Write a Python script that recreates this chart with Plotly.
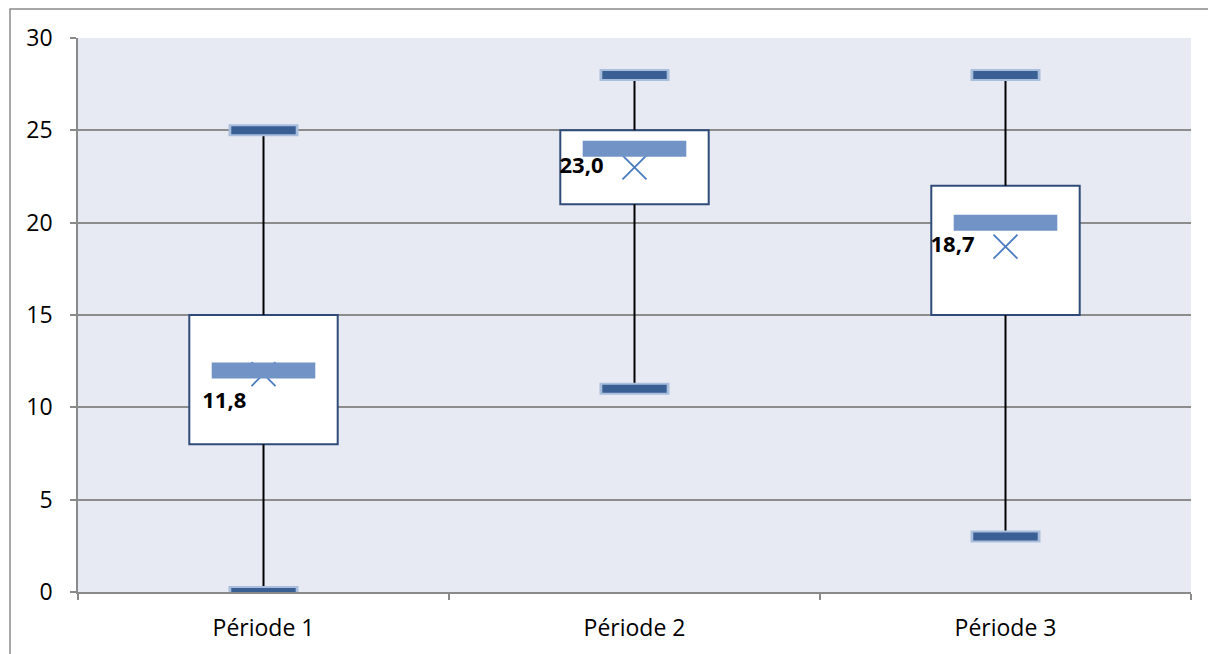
import plotly.graph_objects as go

categories = ["Période 1", "Période 2", "Période 3"]
mins = [0, 11, 3]
q1 = [8, 21, 15]
medians = [12, 24, 20]
q3 = [15, 25, 22]
maxs = [25, 28, 28]
means = [11.8, 23.0, 18.7]
mean_labels = ["11,8", "23,0", "18,7"]
label_pos = ["bottom left", "middle left", "middle left"]
label_gap = [26, 48, 48]

fig = go.Figure()

# whiskers
wx, wy = [], []
for c, lo, a, b, hi in zip(categories, mins, q1, q3, maxs):
    wx += [c, c, None, c, c, None]
    wy += [lo, a, None, b, hi, None]
fig.add_trace(go.Scatter(x=wx, y=wy, mode="lines", line=dict(color="black", width=2),
                         hoverinfo="skip", showlegend=False))

# boxes
fig.add_trace(go.Bar(x=categories, y=[b - a for a, b in zip(q1, q3)], base=q1, width=0.4,
                     marker=dict(color="white", line=dict(color="#2F4B78", width=2)),
                     showlegend=False))

# min / max markers
for vals in (mins, maxs):
    fig.add_trace(go.Scatter(x=categories, y=vals, mode="markers", showlegend=False,
                             marker=dict(symbol="line-ew-open", size=50, color="#A9BDDD",
                                         line=dict(width=12))))
    fig.add_trace(go.Scatter(x=categories, y=vals, mode="markers", showlegend=False,
                             marker=dict(symbol="line-ew-open", size=46, color="#3A5F94",
                                         line=dict(width=8))))

# means
fig.add_trace(go.Scatter(x=categories, y=means, mode="markers", showlegend=False,
                         marker=dict(symbol="x-thin-open", size=24, color="#4A7BC0",
                                     line=dict(width=1.8))))
# mean labels
fig.add_trace(go.Scatter(x=categories, y=means, mode="markers+text", showlegend=False,
                         text=mean_labels, textposition=label_pos,
                         textfont=dict(family="Open Sans", size=22, color="black", weight="bold"),
                         marker=dict(size=label_gap, opacity=0), hoverinfo="skip"))

# medians (drawn over the mean markers)
fig.add_trace(go.Scatter(x=categories, y=medians, mode="markers", showlegend=False,
                         marker=dict(symbol="line-ew-open", size=74, color="#7193C6",
                                     line=dict(width=16))))

fig.update_layout(
    width=1208, height=646,
    margin=dict(l=70, r=25, t=30, b=62, autoexpand=False),
    paper_bgcolor="white",
    plot_bgcolor="#E7EAF3",
    font=dict(family="Open Sans", size=23, color="black"),
    barmode="overlay",
    shapes=[dict(type="rect", xref="paper", yref="paper",
                 x0=-0.0611, x1=1.2, y0=-0.3, y1=1.0523,
                 line=dict(color="#8A8A8A", width=1.5), layer="below")],
)
fig.update_xaxes(type="category", range=[-0.5, 2.5], tickson="boundaries",
                 ticks="outside", ticklen=6, tickcolor="#8A8A8A", tickwidth=1.5,
                 showline=True, linecolor="#8A8A8A", linewidth=1.5,
                 showgrid=False, ticklabelstandoff=15, automargin=False)
fig.update_yaxes(range=[0, 30], dtick=5, ticks="outside", ticklen=6,
                 tickcolor="#8A8A8A", tickwidth=1.5,
                 showline=True, linecolor="#8A8A8A", linewidth=1.5,
                 showgrid=True, gridcolor="#8C8C8C", gridwidth=1.5,
                 zeroline=False, ticklabelstandoff=13, automargin=False)

fig.write_html("out.html")
